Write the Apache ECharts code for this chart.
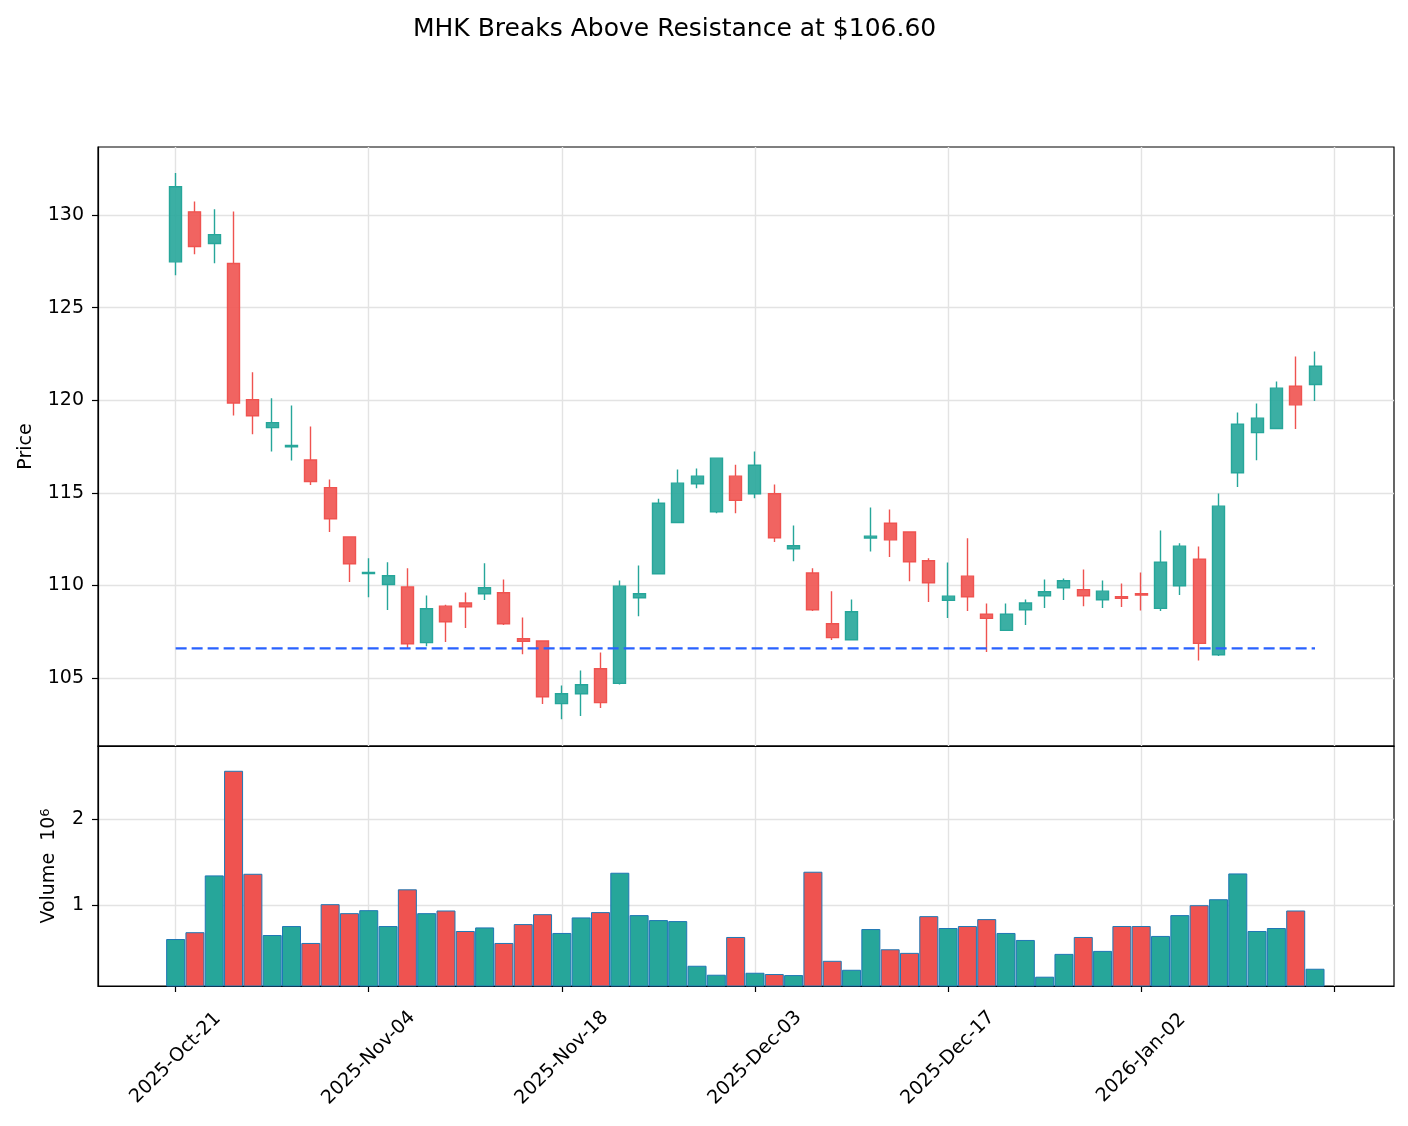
<!DOCTYPE html>
<html>
<head>
<meta charset="utf-8">
<title>MHK Breaks Above Resistance</title>
<script src="https://cdn.jsdelivr.net/npm/echarts@6/dist/echarts.min.js"></script>
<style>
  html, body { margin: 0; padding: 0; background: #fff; }
  #chart { width: 1408px; height: 1126px; }
</style>
</head>
<body>
<div id="chart"></div>
<script>
// trading days, one per candle
var dates = [
  '2025-Oct-21','2025-Oct-22','2025-Oct-23','2025-Oct-24','2025-Oct-27','2025-Oct-28','2025-Oct-29','2025-Oct-30','2025-Oct-31','2025-Nov-03',
  '2025-Nov-04','2025-Nov-05','2025-Nov-06','2025-Nov-07','2025-Nov-10','2025-Nov-11','2025-Nov-12','2025-Nov-13','2025-Nov-14','2025-Nov-17',
  '2025-Nov-18','2025-Nov-19','2025-Nov-20','2025-Nov-21','2025-Nov-24','2025-Nov-25','2025-Nov-26','2025-Nov-28','2025-Dec-01','2025-Dec-02',
  '2025-Dec-03','2025-Dec-04','2025-Dec-05','2025-Dec-08','2025-Dec-09','2025-Dec-10','2025-Dec-11','2025-Dec-12','2025-Dec-15','2025-Dec-16',
  '2025-Dec-17','2025-Dec-18','2025-Dec-19','2025-Dec-22','2025-Dec-23','2025-Dec-24','2025-Dec-26','2025-Dec-29','2025-Dec-30','2025-Dec-31',
  '2026-Jan-02','2026-Jan-05','2026-Jan-06','2026-Jan-07','2026-Jan-08','2026-Jan-09','2026-Jan-12','2026-Jan-13','2026-Jan-14','2026-Jan-15'
];

var opens = [
  127.47,130.17,128.46,127.38,120.03,118.52,117.48,116.77,115.28,112.62,
  110.64,110.05,109.92,106.91,108.88,109.05,109.55,109.60,107.12,107.00,
  103.62,104.15,105.50,104.71,109.33,110.63,113.40,115.49,113.97,115.90,
  114.95,114.95,111.98,110.67,107.93,107.07,112.56,113.36,112.88,111.33,
  109.19,110.50,108.45,107.57,108.69,109.44,109.87,109.77,109.23,109.39,
  109.55,108.76,109.98,111.42,106.26,116.08,118.25,118.47,120.76,120.85
];
var closes = [
  131.52,128.30,128.94,119.85,119.16,118.79,117.55,115.61,113.60,111.17,
  110.70,110.52,106.85,108.74,108.04,108.85,109.87,107.93,106.98,103.99,
  104.15,104.64,103.67,109.96,109.55,114.44,115.52,115.90,116.87,114.59,
  116.49,112.57,112.14,108.69,107.18,108.58,112.66,112.46,111.28,110.14,
  109.42,109.39,108.22,108.45,109.05,109.66,110.25,109.44,109.69,109.30,
  109.48,111.26,112.12,106.87,114.28,118.71,119.03,120.65,119.75,121.83
];
var lows = [
  126.74,127.88,127.40,119.18,118.16,117.23,116.75,115.42,112.89,110.19,
  109.36,108.67,106.58,106.72,106.94,107.70,109.21,107.86,106.29,103.60,
  102.77,102.95,103.38,104.65,108.33,110.60,113.38,115.25,113.90,113.90,
  114.71,112.34,111.31,108.62,107.05,107.05,111.83,111.53,110.23,109.10,
  108.24,108.62,106.40,107.57,107.86,108.78,109.21,108.88,108.78,108.83,
  108.65,108.62,109.48,105.95,106.19,115.31,116.76,118.45,118.44,119.95
];
var highs = [
  132.26,130.73,130.31,130.19,121.51,120.10,119.72,118.58,115.72,112.65,
  111.46,111.25,110.92,109.46,108.95,109.62,111.19,110.32,108.27,107.02,
  104.60,105.41,106.38,110.27,111.08,114.68,116.26,116.31,116.90,116.51,
  117.23,115.45,113.24,110.92,109.68,109.24,114.21,114.10,112.90,111.46,
  111.24,112.54,109.03,109.03,109.24,110.32,110.38,110.86,110.27,110.11,
  110.70,112.97,112.27,112.10,114.96,119.33,119.82,121.01,122.36,122.63
];
// volume in millions
var volumes = [
  0.60,0.68,1.345,2.57,1.364,0.647,0.752,0.554,1.008,0.903,
  0.938,0.752,1.182,0.903,0.934,0.694,0.736,0.554,0.775,0.891,
  0.671,0.853,0.915,1.376,0.880,0.822,0.810,0.287,0.182,0.624,
  0.205,0.190,0.178,1.388,0.345,0.240,0.717,0.480,0.438,0.868,
  0.729,0.752,0.833,0.671,0.589,0.159,0.426,0.624,0.461,0.752,
  0.752,0.636,0.880,0.996,1.066,1.368,0.694,0.729,0.934,0.252
];

var resistance = 106.60;
var priceTicks = [105, 110, 115, 120, 125, 130];
var volumeTicks = [1, 2];
var xTicks = [0, 10, 20, 30, 40, 50, 60];

var UP = '#26a69a', DOWN = '#ef5350';
var FONT = 'DejaVu Sans';
var FS = 19;

var candleData = [];
var volData = [];
for (var i = 0; i < dates.length; i++) {
  candleData.push([i, opens[i], closes[i], lows[i], highs[i]]);
  volData.push({
    value: [i, volumes[i]],
    itemStyle: { color: closes[i] >= opens[i] ? UP : DOWN }
  });
}

var gridLine = { show: true, lineStyle: { color: '#e3e3e3', width: 1.4 } };
var spine = { show: true, onZero: false, lineStyle: { color: '#000', width: 1.2 } };
var tick = function (vals) {
  return { show: true, length: 6, customValues: vals, lineStyle: { color: '#000', width: 1.2 } };
};

var xCommon = {
  type: 'value',
  min: -4.02,
  max: 63.09,
  splitLine: gridLine,
  axisLine: spine
};

var chart = echarts.init(document.getElementById('chart'));

chart.setOption({
  animation: false,
  backgroundColor: '#fff',
  title: {
    text: 'MHK Breaks Above Resistance at $106.60',
    left: 413,
    top: 17,
    padding: 0,
    textStyle: { fontFamily: FONT, fontSize: 25, fontWeight: 'normal', color: '#000' }
  },
  grid: [
    { left: 98, right: 14, top: 147, height: 599, show: true, borderColor: '#000', borderWidth: 1.2, backgroundColor: 'transparent' },
    { left: 98, right: 14, top: 746, height: 240, show: true, borderColor: '#000', borderWidth: 1.2, backgroundColor: 'transparent' }
  ],
  xAxis: [
    Object.assign({}, xCommon, {
      gridIndex: 0,
      axisTick: { show: false, customValues: xTicks },
      axisLabel: { show: false, customValues: xTicks }
    }),
    Object.assign({}, xCommon, {
      gridIndex: 1,
      axisTick: tick(xTicks),
      axisLabel: {
        show: true,
        customValues: xTicks,
        rotate: 45,
        align: 'center',
        verticalAlign: 'middle',
        margin: 72,
        fontFamily: FONT,
        fontSize: FS,
        color: '#000',
        formatter: function (v) { return dates[Math.round(v)] || ''; }
      }
    })
  ],
  yAxis: [
    {
      type: 'value',
      gridIndex: 0,
      min: 101.33,
      max: 133.67,
      name: 'Price',
      nameLocation: 'middle',
      nameGap: 62,
      nameTextStyle: { fontFamily: FONT, fontSize: FS, color: '#000' },
      axisLine: spine,
      axisTick: tick(priceTicks),
      axisLabel: { customValues: priceTicks, margin: 14, fontFamily: FONT, fontSize: FS, color: '#000' },
      splitLine: gridLine
    },
    {
      type: 'value',
      gridIndex: 1,
      min: 0.05,
      max: 2.86,
      name: '{a|Volume  10}{s|6}',
      nameLocation: 'middle',
      nameGap: 38,
      nameTextStyle: {
        fontFamily: FONT, fontSize: FS, color: '#000',
        rich: {
          a: { fontFamily: FONT, fontSize: FS, color: '#000' },
          s: { fontFamily: FONT, fontSize: 13, color: '#000', verticalAlign: 'top', padding: [0, 0, 8, 0] }
        }
      },
      axisLine: spine,
      axisTick: tick(volumeTicks),
      axisLabel: { customValues: volumeTicks, margin: 14, fontFamily: FONT, fontSize: FS, color: '#000' },
      splitLine: gridLine
    }
  ],
  series: [
    {
      name: 'Volume',
      type: 'bar',
      xAxisIndex: 1,
      yAxisIndex: 1,
      barWidth: 19,
      data: volData,
      itemStyle: { borderColor: '#1f77b4', borderWidth: 1 }
    },
    {
      name: 'MHK',
      type: 'candlestick',
      xAxisIndex: 0,
      yAxisIndex: 0,
      barWidth: 12.5,
      encode: { x: 0, y: [1, 2, 3, 4] },
      data: candleData,
      itemStyle: {
        color: 'rgba(38,166,154,0.9)',
        color0: 'rgba(239,83,80,0.9)',
        borderColor: UP,
        borderColor0: DOWN,
        borderWidth: 1.4
      }
    },
    {
      name: 'Resistance',
      type: 'line',
      xAxisIndex: 0,
      yAxisIndex: 0,
      symbol: 'none',
      data: [[0, resistance], [dates.length - 1, resistance]],
      lineStyle: { color: '#2962ff', width: 2.4, type: [11, 5] },
      z: 5
    }
  ]
});
</script>
</body>
</html>
